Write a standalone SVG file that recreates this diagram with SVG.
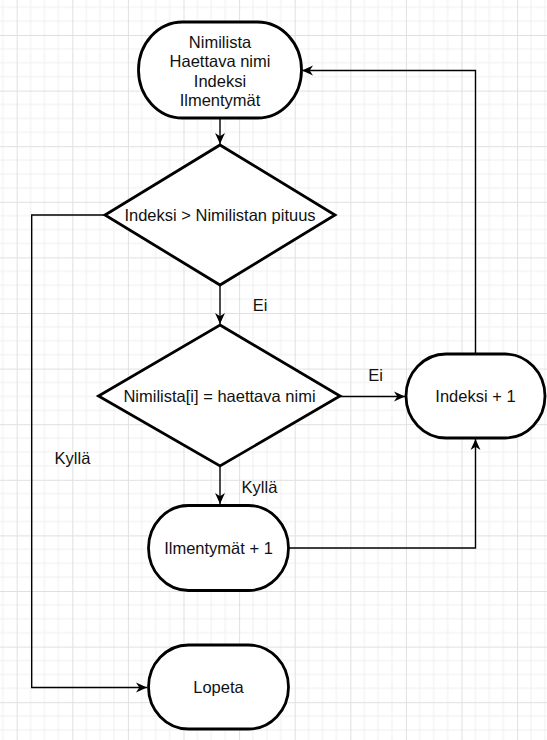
<svg xmlns="http://www.w3.org/2000/svg" width="547" height="740" viewBox="0 0 547 740">
<style>
.shape{fill:#fff;stroke:#000;stroke-width:2.8}
.conn{fill:none;stroke:#000;stroke-width:1.4}
text{font-family:"Liberation Sans",Arial,sans-serif;font-size:16.5px;fill:#111;text-anchor:middle;dominant-baseline:central}
</style>
<defs>
<pattern id="grid" patternUnits="userSpaceOnUse" x="16.7" y="35" width="55.6" height="55.6">
<path d="M13.9 0V55.6M27.8 0V55.6M41.7 0V55.6M0 13.9H55.6M0 27.8H55.6M0 41.7H55.6" stroke="#f0f0f0" stroke-width="1" fill="none"/>
<path d="M0.5 0V55.6M0 0.5H55.6" stroke="#e0e0e0" stroke-width="1" fill="none"/>
</pattern>
<marker id="arr" viewBox="0 0 10 10" refX="10" refY="5" markerWidth="11" markerHeight="11" markerUnits="userSpaceOnUse" orient="auto">
<path d="M0,0.5 L10,5 L0,9.5 L3,5 z" fill="#000"/>
</marker>
</defs>
<rect width="547" height="740" fill="#fff"/>
<rect width="547" height="740" fill="url(#grid)"/>
<g id="connectors">
<path class="conn" d="M220 118V144" marker-end="url(#arr)"/>
<path class="conn" d="M220 285V324" marker-end="url(#arr)"/>
<path class="conn" d="M220 466V504" marker-end="url(#arr)"/>
<path class="conn" d="M340 396.5H405" marker-end="url(#arr)"/>
<path class="conn" d="M288 548H475.5V439" marker-end="url(#arr)"/>
<path class="conn" d="M475.5 354V70.5H302" marker-end="url(#arr)"/>
<path class="conn" d="M105 215H31.7V687.5H147" marker-end="url(#arr)"/>
<text x="260" y="305">Ei</text>
<text x="375.5" y="375">Ei</text>
<text x="259.5" y="487">Kyllä</text>
<text x="72.5" y="458">Kyllä</text>
</g>
<g id="start">
<rect class="shape" x="138.5" y="22" width="163" height="96" rx="44" ry="48"/>
<text x="220" y="41.5">Nimilista</text>
<text x="220" y="61">Haettava nimi</text>
<text x="220" y="80.5">Indeksi</text>
<text x="220" y="100">Ilmentymät</text>
</g>
<g id="cond1">
<polygon class="shape" points="220,145 335,215 220,285 105,215"/>
<text x="220" y="215">Indeksi &gt; Nimilistan pituus</text>
</g>
<g id="cond2">
<polygon class="shape" points="220,325 340,396 220,466 98.5,396"/>
<text x="219.5" y="396">Nimilista[i] = haettava nimi</text>
</g>
<g id="increment">
<rect class="shape" x="406" y="354" width="139" height="84" rx="40" ry="42"/>
<text x="475.5" y="396">Indeksi + 1</text>
</g>
<g id="count">
<rect class="shape" x="148.5" y="505.5" width="140" height="85" rx="40" ry="42.5"/>
<text x="218.5" y="548">Ilmentymät + 1</text>
</g>
<g id="stop">
<rect class="shape" x="148.5" y="645" width="140" height="84" rx="40" ry="42"/>
<text x="218.5" y="687">Lopeta</text>
</g>
</svg>
